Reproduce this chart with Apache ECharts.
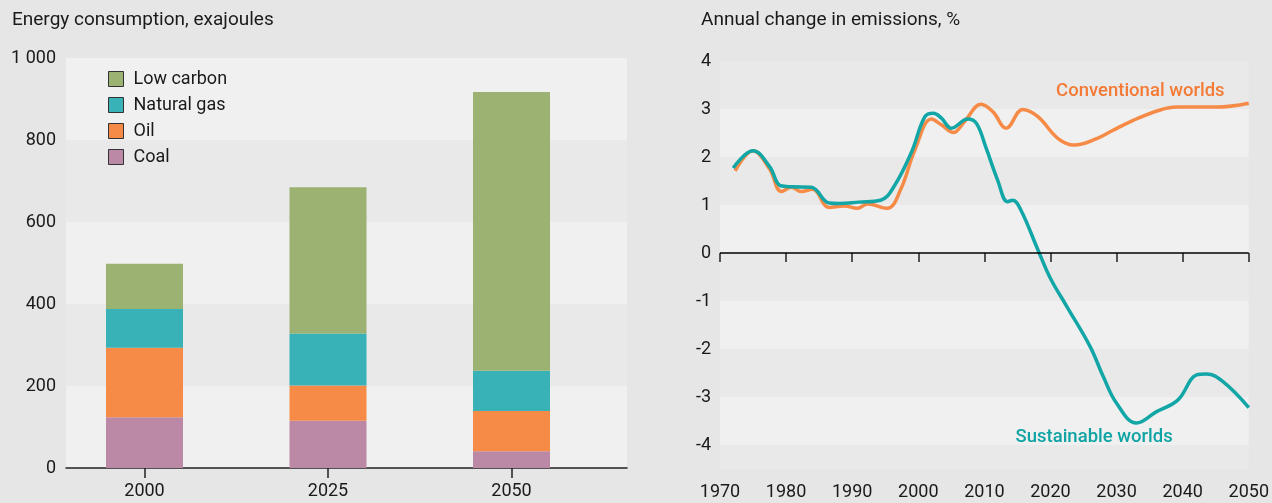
<!DOCTYPE html>
<html>
<head>
<meta charset="utf-8">
<script src="https://cdn.jsdelivr.net/npm/echarts@6/dist/echarts.min.js"></script>
<style>
html,body{margin:0;padding:0;background:#e6e6e6;}
#c{width:1272px;height:503px;}
</style>
</head>
<body>
<div id="c"></div>
<script>
// ---- Left chart data (exajoules) ----
const barCategories = ['2000', '2025', '2050'];
const coal = [124, 115, 41];
const oil = [169, 86, 98];
const naturalGas = [95, 127, 98];
const lowCarbon = [110, 357, 680];

// ---- Right chart data (annual change in emissions, %) ----
const conventional = [
  [1972.3,1.71],[1975,2.13],[1977.5,1.75],[1979.3,1.28],[1980.8,1.37],[1982.3,1.28],[1984,1.33],
  [1986.5,0.95],[1988.8,0.98],[1990.8,0.93],[1992.3,1.02],[1995.3,0.93],[1997.3,1.31],[1999.5,2.15],
  [2002,2.79],[2003.5,2.67],[2005.3,2.51],[2007,2.74],[2009.5,3.10],[2011.3,2.94],[2013.3,2.60],
  [2015.8,2.99],[2018.1,2.84],[2021.1,2.39],[2023.6,2.25],[2027.1,2.39],[2029.1,2.53],[2032.6,2.77],
  [2036.6,2.98],[2039.1,3.04],[2045.1,3.04],[2050,3.12]
];
const sustainable = [
  [1972,1.77],[1975,2.13],[1977.5,1.80],[1979.2,1.40],[1981,1.38],[1983.8,1.37],[1986.5,1.04],
  [1988,1.03],[1991,1.06],[1994.3,1.10],[1996.3,1.38],[1999,2.11],[2001,2.84],[2002.3,2.91],
  [2003.5,2.81],[2005,2.60],[2007.5,2.79],[2008.8,2.70],[2010.2,2.21],[2012,1.52],[2013.5,1.07],
  [2014.3,1.10],[2015.5,0.90],[2018.3,0],[2020,-0.53],[2022.5,-1.12],[2026,-1.95],[2028,-2.58],
  [2030,-3.13],[2033,-3.54],[2036,-3.31],[2039.3,-3.06],[2042.1,-2.54],[2043.6,-2.52],
  [2046.1,-2.68],[2050,-3.22]
];

const FONT = 'Roboto, "Noto Sans", sans-serif';
const TXT = '#1a1a1a';
const LIGHT = '#f0f0f0', DARK = '#e9e9e9';
const COLORS = {coal:'#bb88a6', oil:'#f68b48', gas:'#38b1b7', low:'#9cb273'};
const ORANGE = '#f68b48', TEAL = '#12a6a6';

const chart = echarts.init(document.getElementById('c'), null, {renderer:'canvas'});

function barSeries(name, arr, color) {
  return {
    name, type:'bar', stack:'energy', xAxisIndex:2, yAxisIndex:2,
    barWidth:77, itemStyle:{color}, data:arr, silent:true
  };
}

const option = {
  backgroundColor:'#e6e6e6',
  animation:false,
  textStyle:{fontFamily:FONT},
  title:[
    {text:'Energy consumption, exajoules', left:7, top:6,
     textStyle:{fontFamily:FONT, fontSize:19, fontWeight:'normal', color:TXT}},
    {text:'Annual change in emissions, %', left:696, top:6,
     textStyle:{fontFamily:FONT, fontSize:19, fontWeight:'normal', color:TXT}}
  ],
  legend:{
    orient:'vertical', left:103, top:65, itemWidth:15, itemHeight:15, itemGap:8,
    icon:'rect',
    data:['Low carbon','Natural gas','Oil','Coal'],
    itemStyle:{borderColor:'#333', borderWidth:1},
    textStyle:{fontFamily:FONT, fontSize:18, color:TXT, padding:[0,0,0,5]},
    selectedMode:false
  },
  grid:[
    {left:66, top:58, right:1272-627, bottom:35},
    {left:720, top:61, right:19, bottom:34},
    {left:52.75, top:58, right:1272-603.25, bottom:35}
  ],
  xAxis:[
    {gridIndex:0, type:'value', min:0, max:1,
     axisLine:{show:true, lineStyle:{color:'#222', width:1.5}},
     axisTick:{show:false}, axisLabel:{show:false}, splitLine:{show:false}},
    {gridIndex:1, type:'value', min:1970, max:2050, interval:10,
     axisLine:{show:false},
     axisTick:{show:true, length:9, lineStyle:{color:'#222', width:1.5}},
     axisLabel:{margin:14, fontSize:18, color:TXT, fontFamily:FONT, formatter:(v)=>String(v)},
     splitLine:{show:false}},
    {gridIndex:2, type:'category', data:barCategories,
     axisLine:{show:false},
     axisTick:{show:true, alignWithLabel:true, length:10, lineStyle:{color:'#222', width:1.5}},
     axisLabel:{margin:14, fontSize:18, color:TXT, fontFamily:FONT},
     splitLine:{show:false}}
  ],
  yAxis:[
    {gridIndex:0, type:'value', min:0, max:1000, interval:200,
     axisLine:{show:false}, axisTick:{show:false},
     axisLabel:{margin:10, fontSize:18, color:TXT, fontFamily:FONT, padding:[8,0,0,0],
       formatter:(v)=> v>=1000 ? String(v).replace(/(\d)(\d{3})$/, '$1 $2') : String(v)},
     splitLine:{show:false},
     splitArea:{show:true, areaStyle:{color:[LIGHT, DARK]}}},
    {gridIndex:1, type:'value', min:-4.5, max:4, splitNumber:8,
     axisLine:{show:false}, axisTick:{show:false},
     axisLabel:{margin:9, fontSize:18, color:TXT, fontFamily:FONT, showMinLabel:false,
       formatter:(v)=> (Math.abs(v - Math.round(v))>1e-6) ? '' : String(v)},
     splitLine:{show:false},
     splitArea:{show:true, areaStyle:{color:[DARK, LIGHT]}}},
    {gridIndex:2, type:'value', min:0, max:1000, show:false,
     splitLine:{show:false}}
  ],
  series:[
    barSeries('Coal', coal, COLORS.coal),
    barSeries('Oil', oil, COLORS.oil),
    barSeries('Natural gas', naturalGas, COLORS.gas),
    barSeries('Low carbon', lowCarbon, COLORS.low),
    {
      name:'Conventional worlds', type:'line', xAxisIndex:1, yAxisIndex:1,
      data:conventional, smooth:0.4, showSymbol:false, symbol:'none',
      lineStyle:{color:ORANGE, width:3.5}, itemStyle:{color:ORANGE}, silent:true,
      markLine:{silent:true, symbol:'none', label:{show:false},
        lineStyle:{color:'#000', width:1.5, type:'solid'}, data:[{yAxis:0}]},
      markPoint:{silent:true, symbol:'rect', symbolSize:1, itemStyle:{color:'rgba(0,0,0,0)'},
        label:{show:true, position:'inside', formatter:'Conventional worlds', fontSize:18.5, fontWeight:500,
          color:'#f47a35', fontFamily:FONT},
        data:[{coord:[2033.6, 3.37]}]}
    },
    {
      name:'Sustainable worlds', type:'line', xAxisIndex:1, yAxisIndex:1,
      data:sustainable, smooth:0.4, showSymbol:false, symbol:'none',
      lineStyle:{color:TEAL, width:3.5}, itemStyle:{color:TEAL}, silent:true,
      markPoint:{silent:true, symbol:'rect', symbolSize:1, itemStyle:{color:'rgba(0,0,0,0)'},
        label:{show:true, position:'inside', formatter:'Sustainable worlds', fontSize:18.5, fontWeight:500,
          color:'#0fa3a3', fontFamily:FONT},
        data:[{coord:[2026.6, -3.85]}]}
    }
  ]
};
chart.setOption(option);
</script>
</body>
</html>
